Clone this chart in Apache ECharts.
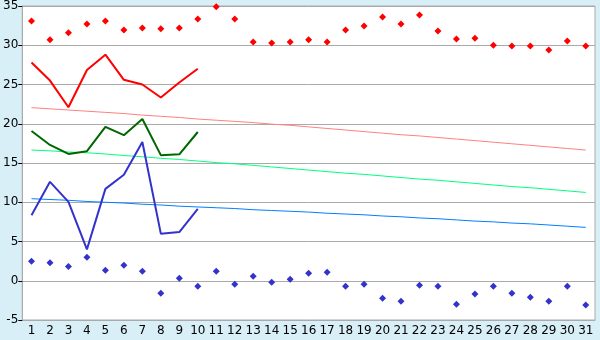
<!DOCTYPE html>
<html><head><meta charset="utf-8">
<script src="https://cdn.jsdelivr.net/npm/echarts@6/dist/echarts.min.js"></script>
<style>html,body{margin:0;padding:0;background:#d9eff7;}#c{width:600px;height:340px;}</style>
</head><body><div id="c"></div>
<script>
var days = ['1','2','3','4','5','6','7','8','9','10','11','12','13','14','15','16','17','18','19','20','21','22','23','24','25','26','27','28','29','30','31'];
var maxPoints = [33.1,30.7,31.6,32.7,33.1,31.95,32.2,32.1,32.2,33.35,34.9,33.35,30.4,30.3,30.4,30.7,30.4,31.95,32.45,33.6,32.7,33.85,31.8,30.8,30.9,30.0,29.9,29.9,29.4,30.55,29.9];
var minPoints = [2.47,2.3,1.8,2.98,1.33,1.96,1.2,-1.6,0.31,-0.7,1.2,-0.45,0.56,-0.2,0.18,0.95,1.07,-0.7,-0.45,-2.23,-2.6,-0.58,-0.7,-3.0,-1.7,-0.7,-1.6,-2.1,-2.6,-0.7,-3.1];
var maxLine = [27.8,25.5,22.1,26.85,28.8,25.6,25.0,23.35,25.25,27.0];
var meanLine = [19.07,17.3,16.15,16.5,19.6,18.55,20.6,16.0,16.1,18.95];
var minLine = [8.35,12.6,10.05,4.0,11.7,13.5,17.67,6.0,6.2,9.15];
var normMax = [22.05,21.9,21.75,21.6,21.45,21.3,21.1,20.95,20.8,20.6,20.45,20.3,20.15,19.95,19.8,19.6,19.4,19.2,19.0,18.8,18.6,18.45,18.25,18.05,17.85,17.65,17.45,17.25,17.05,16.85,16.65];
var normMean = [16.65,16.55,16.4,16.3,16.15,15.95,15.8,15.6,15.45,15.25,15.05,14.9,14.7,14.5,14.3,14.1,13.9,13.7,13.55,13.35,13.15,12.95,12.8,12.6,12.4,12.2,12.0,11.85,11.65,11.45,11.25];
var normMin = [10.45,10.35,10.25,10.1,10.0,9.9,9.75,9.65,9.5,9.4,9.3,9.2,9.05,8.95,8.85,8.75,8.6,8.5,8.4,8.25,8.15,8.0,7.9,7.75,7.6,7.5,7.35,7.25,7.1,6.95,6.8];
var yTicks = {min: -5, max: 35, interval: 5};

var chart = echarts.init(document.getElementById('c'), null, {renderer: 'canvas'});
function line(data, color, w) {
  return {type: 'line', data: data, symbol: 'none', silent: true, animation: false,
    lineStyle: {color: color, width: w}, z: 3};
}
function pts(data, color) {
  return {type: 'scatter', data: data, symbol: 'diamond', symbolSize: 7, animation: false,
    itemStyle: {color: color, opacity: 1}, z: 4};
}
chart.setOption({
  backgroundColor: '#d9eff7',
  animation: false,
  grid: {left: 21, right: 5, top: 5, bottom: 20, show: true, backgroundColor: '#ffffff', borderColor: '#aaaaaa', borderWidth: 1},
  xAxis: {type: 'category', data: days, boundaryGap: true,
    axisLine: {onZero: false, lineStyle: {color: '#aaaaaa'}},
    axisTick: {alignWithLabel: true, length: 5, lineStyle: {color: '#000000'}},
    axisLabel: {color: '#000', fontFamily: 'DejaVu Sans', fontSize: 12, margin: 5, interval: 0},
    splitLine: {show: false}},
  yAxis: {type: 'value', min: yTicks.min, max: yTicks.max, interval: yTicks.interval,
    axisLine: {show: true, lineStyle: {color: '#aaaaaa'}},
    axisTick: {show: true, length: 4, lineStyle: {color: '#000000'}},
    axisLabel: {color: '#000', fontFamily: 'DejaVu Sans', fontSize: 12, margin: 4},
    splitLine: {lineStyle: {color: '#aaaaaa', width: 1}}},
  series: [
    line(normMax, '#ff8080', 1),
    line(normMean, '#00ff80', 1),
    line(normMin, '#0080ff', 1),
    line(maxLine, '#ff0000', 2),
    line(meanLine, '#006600', 2),
    line(minLine, '#3333cc', 2),
    pts(maxPoints, '#ff0000'),
    pts(minPoints, '#3333cc')
  ]
});
</script></body></html>
